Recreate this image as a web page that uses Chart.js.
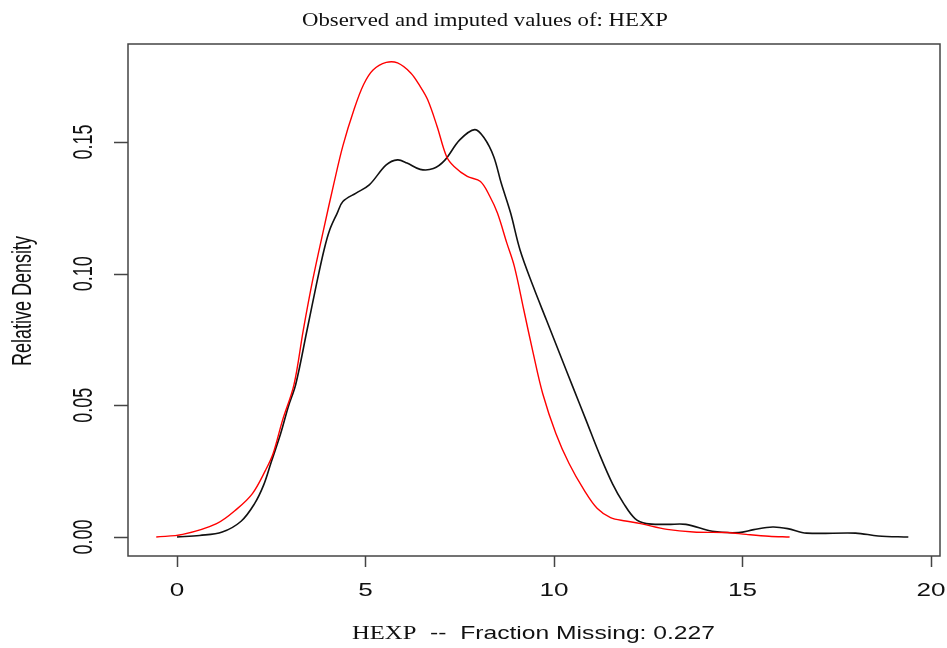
<!DOCTYPE html>
<html lang="en">
<head>
    <meta charset="UTF-8">
    <title>Observed and imputed values of: HEXP</title>
    <script src="https://cdn.jsdelivr.net/npm/chart.js@4.4.0/dist/chart.umd.min.js"></script>
    <style>
        body { margin: 0; background: #fff; }
        canvas { display: block; }
    </style>
</head>
<body>
<canvas id="chart01" width="947" height="648"></canvas>

<script>
    // observed density (black)
    var obsX = [0, 0.6, 1.2, 1.7, 2.05, 2.3, 2.5, 2.75, 2.95, 3.15, 3.45, 3.7, 3.9, 4.05, 4.25, 4.4, 4.75, 5.1, 5.55, 5.85,
        6.1, 6.45, 6.8, 7.1, 7.5, 7.9, 8.15, 8.4, 8.6, 8.85, 9.1, 9.45, 9.8, 10.15, 10.5, 10.85, 11.2, 11.55, 11.85, 12.15,
        12.45, 13.0, 13.5, 14.2, 14.9, 15.3, 15.8, 16.2, 16.7, 18.0, 18.6, 19.4];
    var obsY = [0, 0.0006, 0.0019, 0.006, 0.0125, 0.0198, 0.0285, 0.0393, 0.0494, 0.058, 0.0786, 0.096, 0.109, 0.1166, 0.123, 0.1274, 0.1306, 0.1337, 0.1413, 0.1432,
        0.142, 0.1396, 0.1399, 0.143, 0.1508, 0.1547, 0.1515, 0.1445, 0.1344, 0.123, 0.109, 0.0951, 0.0824, 0.0697, 0.057, 0.0444, 0.0317, 0.0203, 0.0127, 0.007,
        0.0051, 0.0048, 0.0048, 0.0022, 0.0017, 0.0028, 0.0038, 0.0032, 0.0015, 0.0015, 0.0004, 0];

    // imputed density (red)
    var impX = [-0.55, 0.15, 1.05, 1.6, 2.0, 2.35, 2.55, 2.8, 3.1, 3.35, 3.6, 3.9, 4.15, 4.4, 4.7, 4.95, 5.2, 5.55, 5.85, 6.2,
        6.45, 6.65, 6.9, 7.15, 7.35, 7.7, 8.05, 8.3, 8.5, 8.75, 8.95, 9.2, 9.45, 9.7, 10.05, 10.4, 10.8, 11.15, 11.5, 11.9,
        12.3, 13.0, 13.7, 14.6, 15.1, 15.7, 16.25];
    var impY = [0, 0.001, 0.0051, 0.0108, 0.0165, 0.0254, 0.0317, 0.0444, 0.0577, 0.0786, 0.0976, 0.1175, 0.1335, 0.1485, 0.1625, 0.1718, 0.1773, 0.1802, 0.18, 0.1762,
        0.1711, 0.166, 0.1559, 0.1445, 0.1407, 0.1369, 0.135, 0.1293, 0.123, 0.1116, 0.1027, 0.0862, 0.0697, 0.0545, 0.0393, 0.0279, 0.0178, 0.0108, 0.0074, 0.0061,
        0.0051, 0.0029, 0.0019, 0.0017, 0.001, 0.0003, 0];

    var xTicks = [0, 5, 10, 15, 20];
    var yTicks = [0, 0.05, 0.10, 0.15];
    var yTickLabels = ["0.00", "0.05", "0.10", "0.15"];

    var titleText = "Observed and imputed values of: HEXP";
    var xTitleVar = "HEXP";
    var xTitleRest = "  --  Fraction Missing: 0.227";
    var yTitleText = "Relative Density";

    function toPoints(xs, ys) {
        return xs.map(function (x, i) { return {x: x, y: ys[i]}; });
    }

    var SANS = '"Liberation Sans", Arial, sans-serif';
    var SERIF = '"Liberation Serif", "Times New Roman", serif';

    // text squeezed/stretched to a width, like the resized R picture
    function wideText(ctx, str, cx, baseY, font, width) {
        ctx.save();
        ctx.font = font;
        var m = ctx.measureText(str).width;
        ctx.translate(cx, baseY);
        ctx.scale(width / m, 1);
        ctx.textAlign = "center";
        ctx.textBaseline = "alphabetic";
        ctx.fillText(str, 0, 0);
        ctx.restore();
    }

    function upText(ctx, str, baseX, cy, font, sx) {
        ctx.save();
        ctx.font = font;
        ctx.translate(baseX, cy);
        ctx.scale(sx, 1);
        ctx.rotate(-Math.PI / 2);
        ctx.textAlign = "center";
        ctx.textBaseline = "alphabetic";
        ctx.fillText(str, 0, 0);
        ctx.restore();
    }

    var rAxes = {
        id: "rAxes",
        afterDraw: function (chart) {
            var ctx = chart.ctx;
            var a = chart.chartArea;
            var xs = chart.scales.x, ys = chart.scales.y;
            ctx.save();
            ctx.strokeStyle = "#444";
            ctx.lineWidth = 1.5;
            ctx.strokeRect(a.left, a.top, a.right - a.left, a.bottom - a.top);

            ctx.fillStyle = "#111";
            ctx.beginPath();
            xTicks.forEach(function (v) {
                var px = Math.round(xs.getPixelForValue(v)) + 0.5;
                ctx.moveTo(px, a.bottom);
                ctx.lineTo(px, a.bottom + 11);
            });
            yTicks.forEach(function (v) {
                var py = Math.round(ys.getPixelForValue(v)) + 0.5;
                ctx.moveTo(a.left, py);
                ctx.lineTo(a.left - 14, py);
            });
            ctx.stroke();

            xTicks.forEach(function (v) {
                ctx.save();
                ctx.font = "18px " + SANS;
                ctx.translate(xs.getPixelForValue(v), 596);
                ctx.scale(1.45, 1);
                ctx.textAlign = "center";
                ctx.fillText(String(v), 0, 0);
                ctx.restore();
            });
            yTicks.forEach(function (v, i) {
                upText(ctx, yTickLabels[i], 92, ys.getPixelForValue(v), "18px " + SANS, 1.5);
            });

            // title
            wideText(ctx, titleText, 485, 26, "19px " + SERIF, 366);

            // x title: variable name in serif, rest in sans
            ctx.save();
            ctx.font = "19px " + SERIF;
            var w1 = ctx.measureText(xTitleVar).width;
            ctx.font = "19px " + SANS;
            var w2 = ctx.measureText(xTitleRest).width;
            var k = 363 / (w1 + w2);
            ctx.translate(352, 639);
            ctx.scale(k, 1);
            ctx.textAlign = "left";
            ctx.font = "19px " + SERIF;
            ctx.fillText(xTitleVar, 0, 0);
            ctx.font = "19px " + SANS;
            ctx.fillText(xTitleRest, w1, 0);
            ctx.restore();

            // y title
            upText(ctx, yTitleText, 31, 301, "18px " + SANS, 1.5);
            ctx.restore();
        }
    };

    var chart_1 = new Chart(document.getElementById("chart01"), {
        type: "scatter",
        data: {
            datasets: [
                {
                    label: "imputed",
                    data: toPoints(impX, impY),
                    showLine: true,
                    borderColor: "#ff0000",
                    borderWidth: 1.4,
                    pointRadius: 0,
                    tension: 0.35
                },
                {
                    label: "observed",
                    data: toPoints(obsX, obsY),
                    showLine: true,
                    borderColor: "#111111",
                    borderWidth: 1.6,
                    pointRadius: 0,
                    tension: 0.35
                }
            ]
        },
        options: {
            responsive: false,
            animation: false,
            layout: {padding: {left: 128, right: 7, top: 44, bottom: 92}},
            plugins: {legend: {display: false}, tooltip: {enabled: false}},
            scales: {
                x: {type: "linear", min: -1.3, max: 20.24, display: false},
                y: {type: "linear", min: -0.0072, max: 0.1872, display: false}
            }
        },
        plugins: [rAxes]
    });
</script>
</body>
</html>
